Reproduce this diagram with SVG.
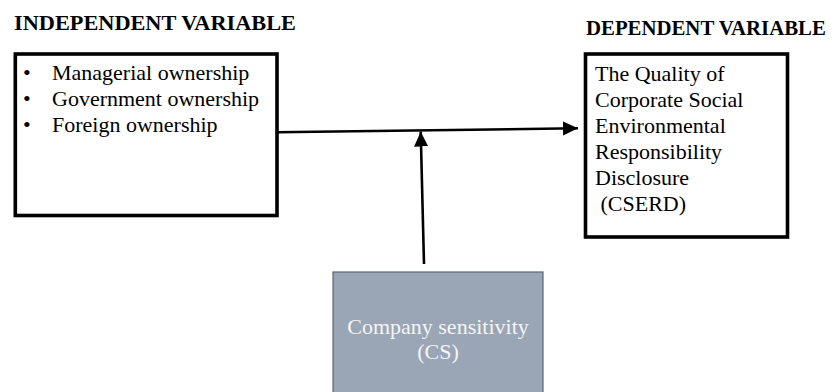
<svg xmlns="http://www.w3.org/2000/svg" width="837" height="392" viewBox="0 0 837 392">
<style>
  .t{font-family:"Liberation Serif","Times New Roman",serif;font-size:22px;fill:#000}
  .h{font-family:"Liberation Serif","Times New Roman",serif;font-size:22px;font-weight:bold;fill:#000}
  .box{fill:#fff;stroke:#000;stroke-width:3.6}
  .cs{fill:#9aa6b5;stroke:#5d6773;stroke-width:1.2}
  .w{font-family:"Liberation Serif","Times New Roman",serif;font-size:22px;fill:#f4f5f7}
  .c{fill:none;stroke:#000;stroke-width:2.6}
</style>
<defs>
  <marker id="ah" markerUnits="userSpaceOnUse" markerWidth="16" markerHeight="16" viewBox="0 0 16 16" refX="15" refY="8" orient="auto">
    <path d="M0,1 L15,8 L0,15 Z" fill="#000"/>
  </marker>
</defs>
<rect width="837" height="392" fill="#fff"/>
<text class="h" x="14" y="30" textLength="282" lengthAdjust="spacingAndGlyphs">INDEPENDENT VARIABLE</text>
<text class="h" x="586" y="35" style="font-size:20.8px">DEPENDENT VARIABLE</text>
<g id="independent">
  <rect class="box" x="15.3" y="54" width="261.7" height="161.5"/>
  <text class="t" x="23" y="80">•</text>
  <text class="t" x="52" y="80">Managerial ownership</text>
  <text class="t" x="23" y="106">•</text>
  <text class="t" x="52" y="106">Government ownership</text>
  <text class="t" x="23" y="132">•</text>
  <text class="t" x="52" y="132">Foreign ownership</text>
</g>
<g id="dependent">
  <rect class="box" x="585.5" y="54" width="202" height="183"/>
  <text class="t" x="595" y="81">The Quality of</text>
  <text class="t" x="595" y="107">Corporate Social</text>
  <text class="t" x="595" y="133">Environmental</text>
  <text class="t" x="595" y="159">Responsibility</text>
  <text class="t" x="595" y="185">Disclosure</text>
  <text class="t" x="595" y="211" xml:space="preserve"> (CSERD)</text>
</g>
<g id="moderator">
  <rect class="cs" x="333" y="272" width="210" height="125"/>
  <text class="w" x="438" y="334" text-anchor="middle">Company sensitivity</text>
  <text class="w" x="438" y="359" text-anchor="middle">(CS)</text>
</g>
<g id="connectors">
  <line class="c" x1="277" y1="132.3" x2="578" y2="128.3" marker-end="url(#ah)"/>
  <line class="c" x1="424" y1="264" x2="420.7" y2="131.5" marker-end="url(#ah)"/>
</g>
</svg>
